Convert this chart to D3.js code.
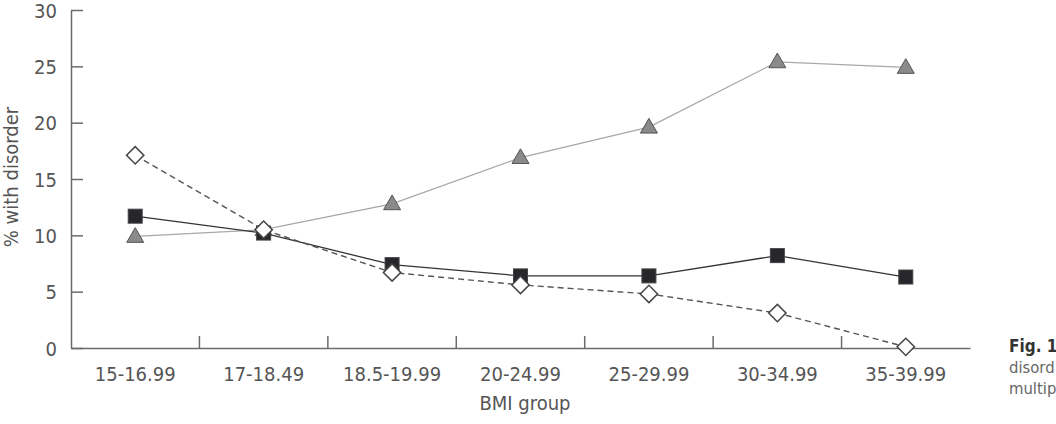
<!DOCTYPE html>
<html>
<head>
<meta charset="utf-8">
<script src="https://cdn.jsdelivr.net/npm/d3@7"></script>
<style>
  html, body { margin: 0; padding: 0; background: #fff; }
  svg text { font-family: "DejaVu Sans Condensed", "Liberation Sans Narrow", sans-serif; }
</style>
</head>
<body>
<svg id="chart" width="1056" height="424"></svg>
<script>
const categories = ["15-16.99", "17-18.49", "18.5-19.99", "20-24.99", "25-29.99", "30-34.99", "35-39.99"];
const triangleSeries = [9.9, 10.5, 12.8, 16.9, 19.6, 25.4, 24.9];
const squareSeries = [11.7, 10.2, 7.4, 6.4, 6.4, 8.2, 6.3];
const diamondSeries = [17.1, 10.5, 6.7, 5.6, 4.8, 3.1, 0.1];
const yTicks = [0, 5, 10, 15, 20, 25, 30];
const yLabel = "% with disorder";
const xLabel = "BMI group";
const captionLines = ["Fig. 1", "disord", "multip"];

const svg = d3.select("#chart");
const mLeft = 71, mRight = 970, mTop = 10, mBottom = 348;
const axisColor = "#6b6b6b", textColor = "#555";

const x = d3.scaleBand().domain(categories).range([mLeft, mRight]);
const y = d3.scaleLinear().domain([0, 30]).range([mBottom, mTop]);

// Y axis
const yAxis = svg.append("g").attr("transform", `translate(${mLeft},0)`)
  .call(d3.axisLeft(y).tickValues(yTicks).tickSizeInner(-12).tickSizeOuter(0));
yAxis.select(".domain").attr("stroke", axisColor).attr("stroke-width", 1.5);
yAxis.selectAll(".tick line").attr("stroke", axisColor).attr("stroke-width", 1.5);
yAxis.selectAll(".tick text").attr("fill", textColor).style("font-size", "20px")
  .attr("x", -14).attr("dy", "0.35em");

// X axis
const xAxis = svg.append("g").attr("transform", `translate(0,${mBottom})`)
  .call(d3.axisBottom(x).tickSize(0).tickPadding(0));
xAxis.select(".domain").attr("stroke", axisColor).attr("stroke-width", 1.5);
xAxis.selectAll(".tick line").remove();
xAxis.selectAll(".tick text").attr("fill", textColor).style("font-size", "20px")
  .attr("y", 33).attr("dy", 0);
// boundary ticks (inward)
svg.append("g").selectAll("line")
  .data(categories.slice(1))
  .join("line")
  .attr("x1", d => x(d)).attr("x2", d => x(d))
  .attr("y1", mBottom).attr("y2", mBottom - 12)
  .attr("stroke", axisColor).attr("stroke-width", 1.5);

// Axis titles
svg.append("text")
  .attr("transform", `translate(18,${177}) rotate(-90)`)
  .attr("text-anchor", "middle")
  .attr("fill", textColor).style("font-size", "20px")
  .text(yLabel);
svg.append("text")
  .attr("x", 525).attr("y", 410)
  .attr("text-anchor", "middle")
  .attr("fill", textColor).style("font-size", "20px")
  .text(xLabel);

const cx = (d, i) => x(categories[i]) + x.bandwidth() / 2;
const line = d3.line().x(cx).y(d => y(d));

// Lines
svg.append("path").datum(triangleSeries).attr("d", line)
  .attr("fill", "none").attr("stroke", "#a8a8a8").attr("stroke-width", 1.3);
svg.append("path").datum(squareSeries).attr("d", line)
  .attr("fill", "none").attr("stroke", "#333").attr("stroke-width", 1.3);
svg.append("path").datum(diamondSeries).attr("d", line)
  .attr("fill", "none").attr("stroke", "#555").attr("stroke-width", 1.4)
  .attr("stroke-dasharray", "6,4");

// Markers
const tri = d3.symbol().type(d3.symbolTriangle).size(125);
svg.append("g").selectAll("path").data(triangleSeries).join("path")
  .attr("d", tri)
  .attr("transform", (d, i) => `translate(${cx(d, i)},${y(d) + 1})`)
  .attr("fill", "#8a8a8a").attr("stroke", "#555").attr("stroke-width", 1);

svg.append("g").selectAll("rect").data(squareSeries).join("rect")
  .attr("x", (d, i) => cx(d, i) - 7).attr("y", d => y(d) - 7)
  .attr("width", 14).attr("height", 14)
  .attr("fill", "#26262b").attr("stroke", "#444").attr("stroke-width", 1);

const diam = d3.symbol().type(d3.symbolSquare).size(150);
svg.append("g").selectAll("path").data(diamondSeries).join("path")
  .attr("d", diam)
  .attr("transform", (d, i) => `translate(${cx(d, i)},${y(d)}) rotate(45)`)
  .attr("fill", "#fff").attr("stroke", "#444").attr("stroke-width", 1.5);

// Caption (right edge)
const cap = svg.append("g");
cap.selectAll("text").data(captionLines).join("text")
  .attr("x", 1009).attr("y", (d, i) => 352 + i * 21)
  .attr("fill", (d, i) => i === 0 ? "#333" : "#666")
  .style("font-size", (d, i) => i === 0 ? "17px" : "16.5px")
  .style("font-weight", (d, i) => i === 0 ? "bold" : "normal")
  .text(d => d);
</script>
</body>
</html>
